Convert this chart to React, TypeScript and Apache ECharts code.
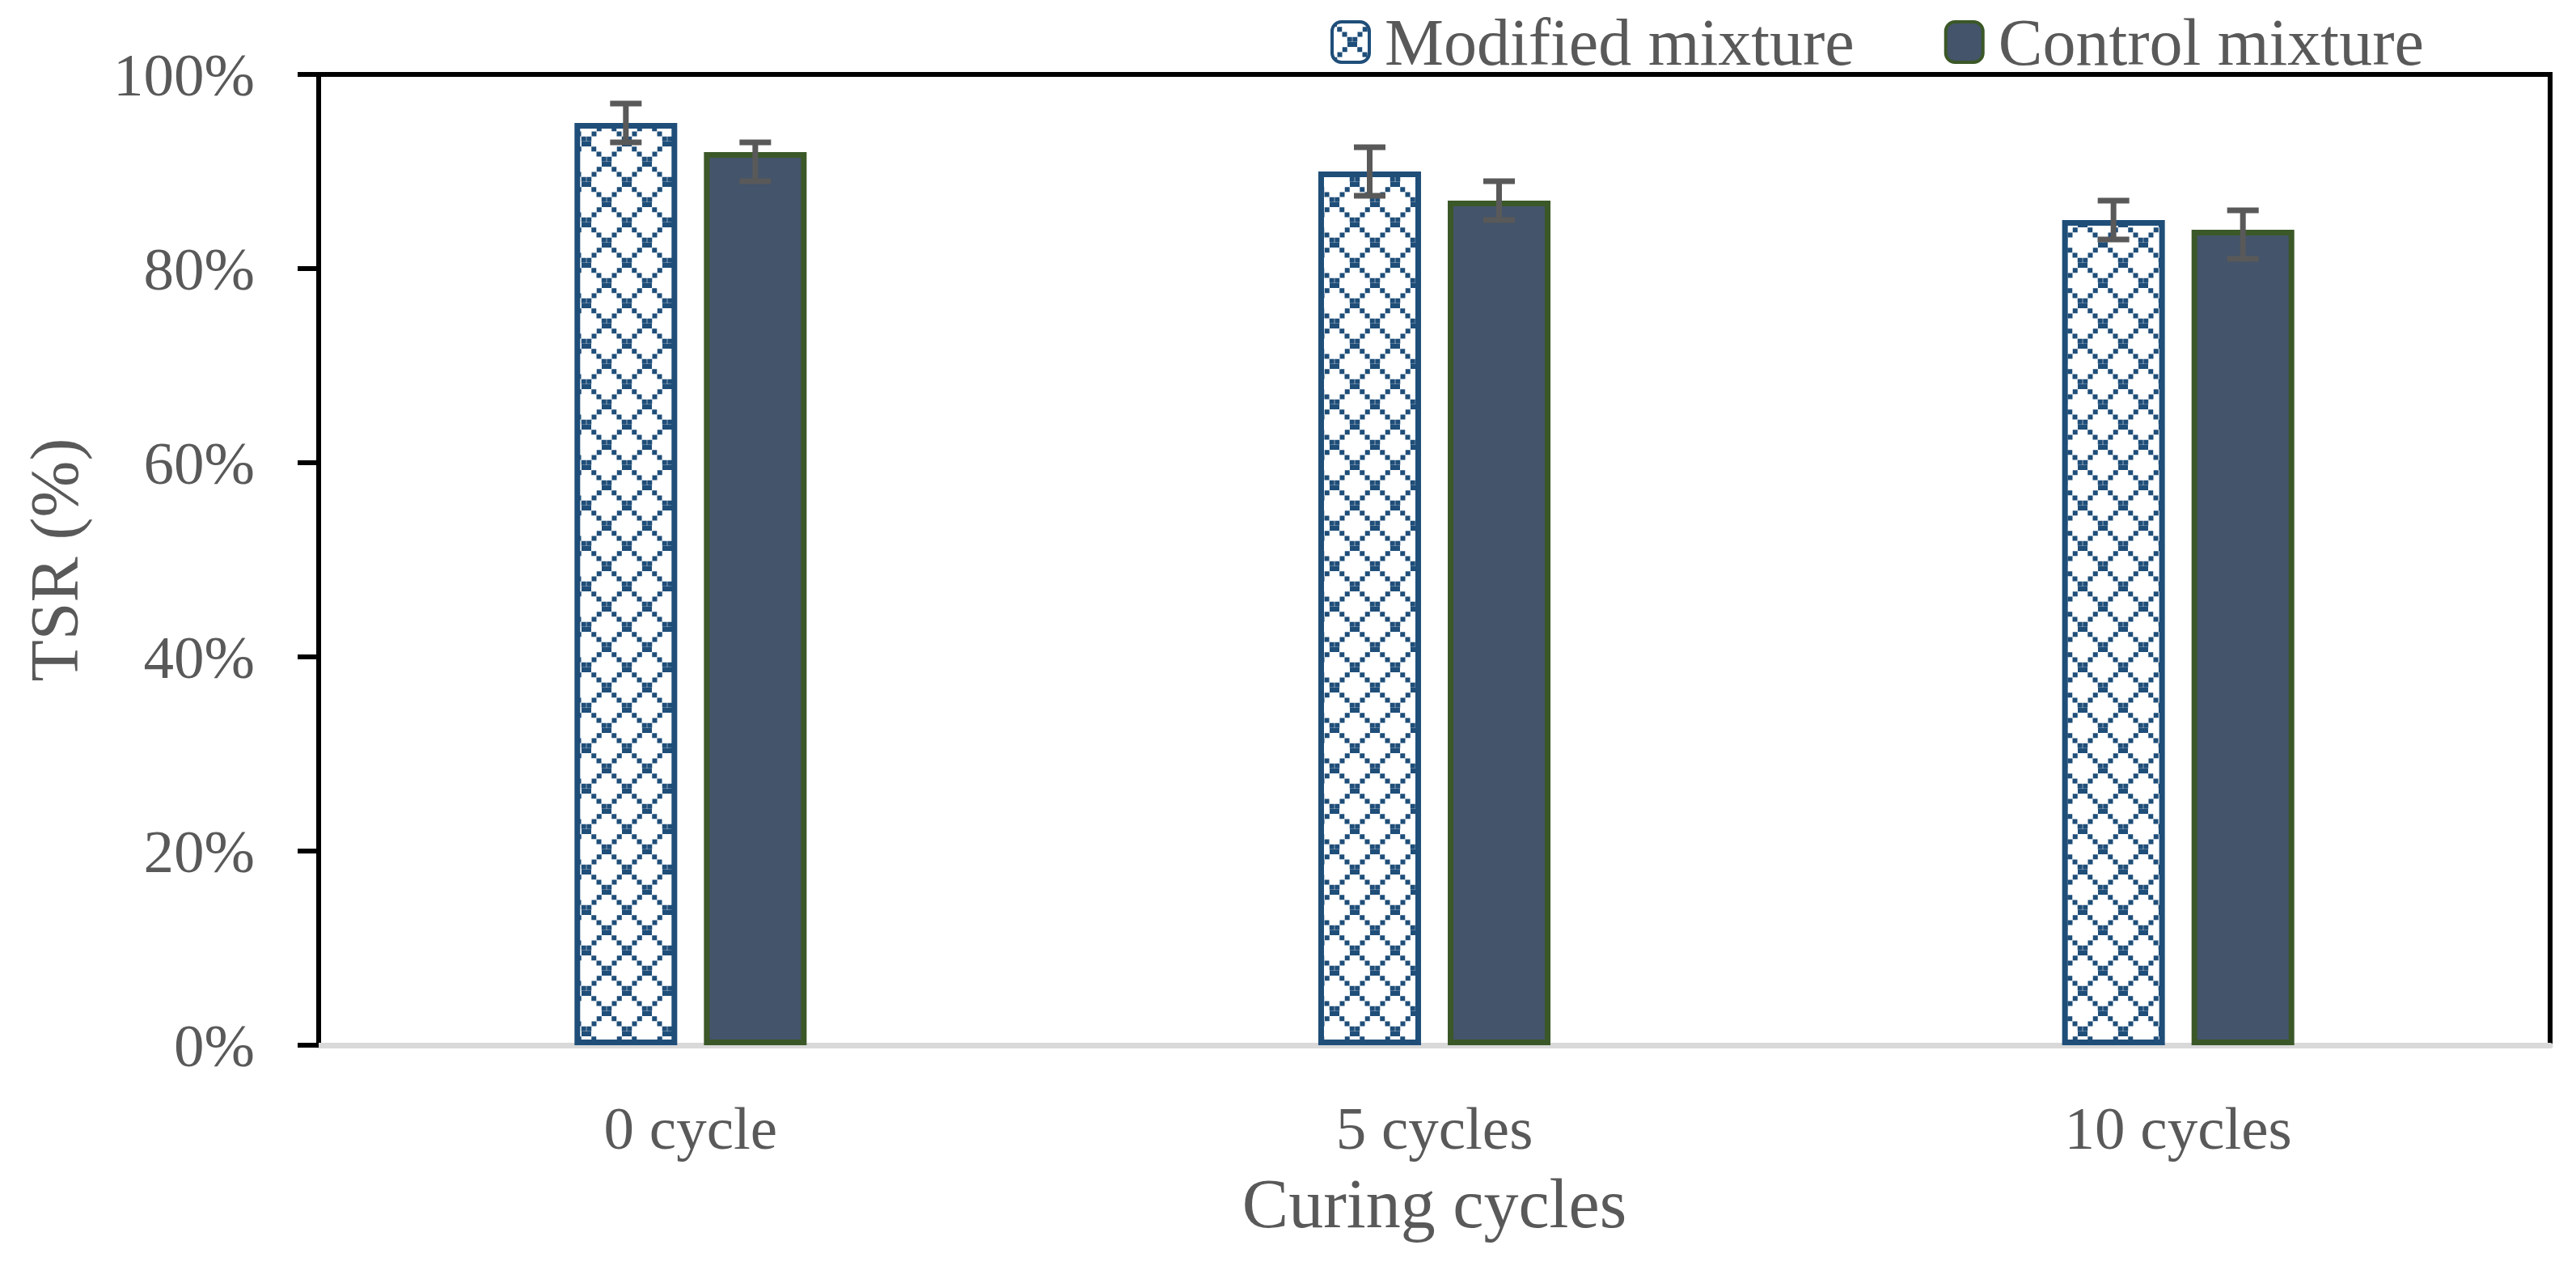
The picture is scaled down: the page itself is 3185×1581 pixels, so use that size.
import React, { useEffect, useRef } from 'react';
import * as echarts from 'echarts';

const categories = ['0 cycle', '5 cycles', '10 cycles'];
const modifiedValues = [95, 90, 85];
const modifiedErrPlus = [2, 2.5, 2];
const modifiedErrMinus = [2, 2.5, 2];
const controlValues = [92, 87, 84];
const controlErrPlus = [1, 2, 2];
const controlErrMinus = [3, 2, 3];
const yMin = 0;
const yMax = 100;
const yInterval = 20;

const FONT = "'Liberation Serif', 'Times New Roman', serif";
const TEXT_COLOR = '#595959';
const BAR_W = 127;
const BAR_GAP = 0.26;
const OFFSET = (BAR_W + BAR_W * BAR_GAP) / 2;

function makePattern(): HTMLCanvasElement {
  const c = document.createElement('canvas');
  c.width = 50;
  c.height = 50;
  const ctx = c.getContext('2d')!;
  ctx.fillStyle = '#ffffff';
  ctx.fillRect(0, 0, 50, 50);
  ctx.fillStyle = '#1f4e79';
  for (let i = 0; i < 8; i++) {
    const p = i * 6.25;
    ctx.fillRect(p, p, 6, 6);
    ctx.fillRect(44 - p, p, 6, 6);
  }
  return c;
}

function errorRenderer(offset: number) {
  return (params: any, api: any) => {
    const idx = api.value(0);
    const v = api.value(1);
    const p = api.value(2);
    const m = api.value(3);
    const c = api.coord([idx, v]);
    const x = c[0] + offset;
    const yTop = api.coord([idx, v + p])[1];
    const yBot = api.coord([idx, v - m])[1];
    const half = 19.5;
    const style = { stroke: '#595959', lineWidth: 7 };
    return {
      type: 'group',
      children: [
        { type: 'line', shape: { x1: x, y1: yTop, x2: x, y2: yBot }, style },
        { type: 'line', shape: { x1: x - half, y1: yTop, x2: x + half, y2: yTop }, style },
        { type: 'line', shape: { x1: x - half, y1: yBot, x2: x + half, y2: yBot }, style },
      ],
    };
  };
}

export default function App() {
  const ref = useRef<HTMLDivElement>(null);
  useEffect(() => {
    if (!ref.current) return;
    const chart = echarts.init(ref.current, null, { renderer: 'svg' });
    const pattern = makePattern();
    const patternColor: any = { image: pattern, repeat: 'repeat', imageWidth: 50, imageHeight: 50 };
    const option: any = {
      animation: false,
      backgroundColor: '#ffffff',
      grid: {
        left: 394,
        top: 92,
        width: 2759,
        height: 1200,
        show: true,
        borderColor: '#000000',
        borderWidth: 6,
        backgroundColor: 'transparent',
        z: 0,
      },
      legend: {
        left: 1640,
        top: 6,
        itemWidth: 46,
        itemHeight: 50,
        itemGap: 111,
        icon: 'roundRect',
        textStyle: { color: TEXT_COLOR, fontFamily: FONT, fontSize: 82, padding: [0, 0, 0, 14] },
        data: [
          { name: 'Modified mixture', itemStyle: { borderWidth: 4 } },
          { name: 'Control mixture', itemStyle: { borderWidth: 4 } },
        ],
      },
      xAxis: {
        type: 'category',
        data: categories,
        z: 1,
        axisLine: { show: true, lineStyle: { color: '#d9d9d9', width: 7 } },
        axisTick: { show: false },
        splitLine: { show: false },
        axisLabel: { color: TEXT_COLOR, fontFamily: FONT, fontSize: 75, margin: 65 },
        name: 'Curing cycles',
        nameLocation: 'middle',
        nameGap: 153,
        nameTextStyle: { color: TEXT_COLOR, fontFamily: FONT, fontSize: 86 },
      },
      yAxis: {
        type: 'value',
        min: yMin,
        max: yMax,
        interval: yInterval,
        z: 1,
        axisLine: { show: true, lineStyle: { color: '#000000', width: 6 } },
        axisTick: { show: true, length: 26, lineStyle: { color: '#000000', width: 6 } },
        splitLine: { show: false },
        axisLabel: { formatter: '{value}%', color: TEXT_COLOR, fontFamily: FONT, fontSize: 75, margin: 79 },
        name: 'TSR (%)',
        nameLocation: 'middle',
        nameGap: 285,
        nameTextStyle: { color: TEXT_COLOR, fontFamily: FONT, fontSize: 84 },
      },
      series: [
        {
          name: 'Modified mixture',
          type: 'bar',
          barWidth: BAR_W,
          barGap: BAR_GAP * 100 + '%',
          z: 2,
          itemStyle: { color: patternColor, borderColor: '#1f4e79', borderWidth: 7 },
          data: modifiedValues,
        },
        {
          name: 'Control mixture',
          type: 'bar',
          barWidth: BAR_W,
          barGap: BAR_GAP * 100 + '%',
          z: 2,
          itemStyle: { color: '#44546a', borderColor: '#3b5828', borderWidth: 7 },
          data: controlValues,
        },
        {
          name: 'Modified error',
          type: 'custom',
          z: 3,
          renderItem: errorRenderer(-OFFSET),
          encode: { x: 0, y: 1 },
          data: modifiedValues.map((v, i) => [i, v, modifiedErrPlus[i], modifiedErrMinus[i]]),
        },
        {
          name: 'Control error',
          type: 'custom',
          z: 3,
          renderItem: errorRenderer(OFFSET),
          encode: { x: 0, y: 1 },
          data: controlValues.map((v, i) => [i, v, controlErrPlus[i], controlErrMinus[i]]),
        },
      ],
    };
    chart.setOption(option);
    return () => chart.dispose();
  }, []);
  return (
    <div
      ref={ref}
      style={{ position: 'fixed', left: 0, top: 0, width: 3185, height: 1581, background: '#ffffff' }}
    />
  );
}
